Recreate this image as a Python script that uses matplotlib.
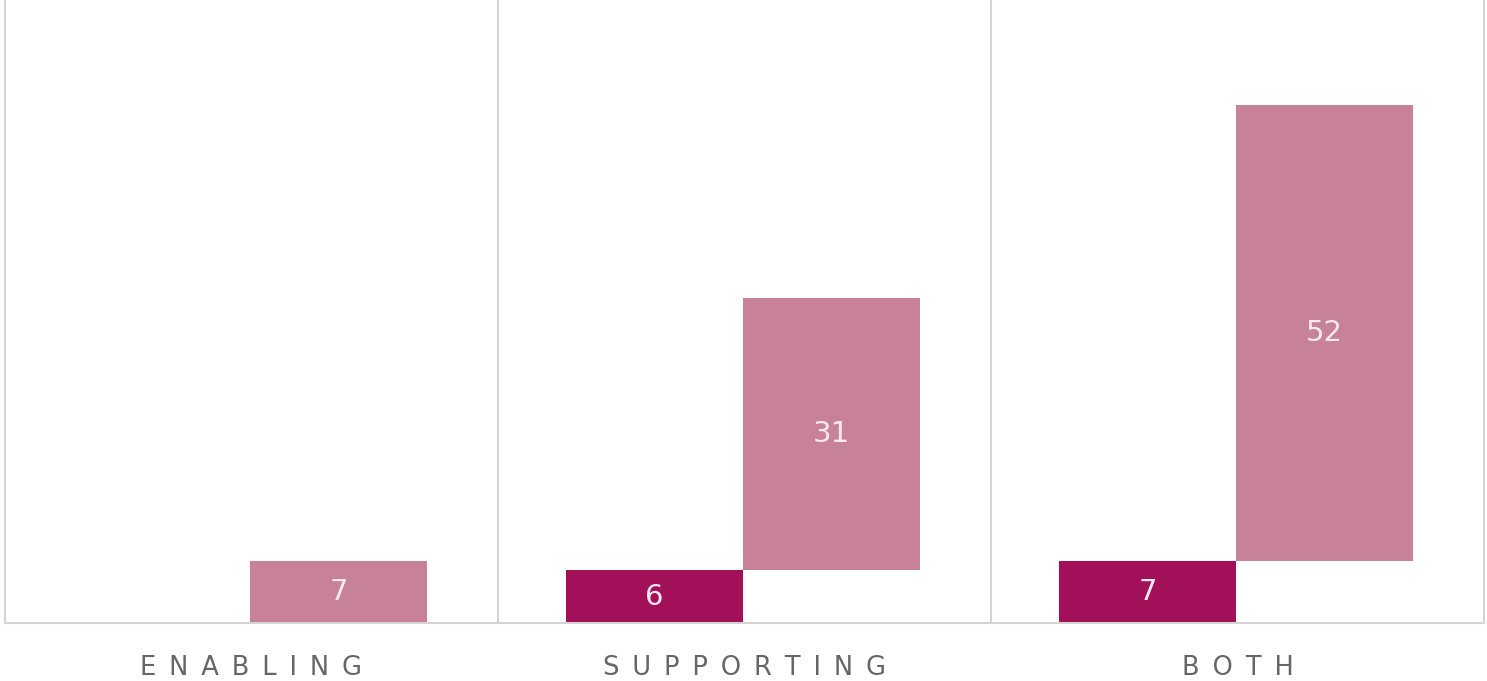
import matplotlib
matplotlib.use("Agg")
import matplotlib.pyplot as plt
import numpy as np

# Counts per category: the first step and the increment stacked on top of it
categories = ["ENABLING", "SUPPORTING", "BOTH"]
base_values = [0, 6, 7]
added_values = [7, 31, 52]

dark_color = "#A3105A"
light_color = "#C78198"
grid_color = "#D4D4D4"
label_color = "#666666"
value_color = "#FBE9F0"

plt.rcParams["font.family"] = ["DejaVu Sans"]

fig = plt.figure(figsize=(14.87, 6.81), dpi=100)
ax = fig.add_axes([5 / 1487, 58 / 681, 1479 / 1487, 1 - 58 / 681])

n = len(categories)
x = np.arange(n)
bar_w = 0.359
dark_left = x + 0.138
light_left = dark_left + bar_w

base = np.array(base_values, dtype=float)
added = np.array(added_values, dtype=float)

ax.bar(dark_left, base, width=bar_w, align="edge", color=dark_color, linewidth=0)
ax.bar(light_left, added, width=bar_w, bottom=base, align="edge",
       color=light_color, linewidth=0)

for i in range(n):
    if base[i] > 0:
        ax.text(dark_left[i] + bar_w / 2, base[i] / 2, f"{base_values[i]}",
                ha="center", va="center", color=value_color, fontsize=21)
    ax.text(light_left[i] + bar_w / 2, base[i] + added[i] / 2, f"{added_values[i]}",
            ha="center", va="center", color=value_color, fontsize=21)

# Panel separators
for b in range(1, n):
    ax.axvline(b, color=grid_color, linewidth=1.5, zorder=0)

ax.set_xlim(0, n)
ax.set_ylim(0, 70.9)

# Letter-spaced category names
ax.set_xticks(x + 0.5)
ax.set_xticklabels(["\u2002".join(c) for c in categories], color=label_color,
                   fontsize=18.5)
ax.tick_params(axis="x", length=0, pad=23)
ax.set_yticks([])

for side in ["left", "right", "bottom"]:
    ax.spines[side].set_color(grid_color)
    ax.spines[side].set_linewidth(1.5)
ax.spines["top"].set_visible(False)

fig.savefig("out.png", dpi=100, facecolor="white")
